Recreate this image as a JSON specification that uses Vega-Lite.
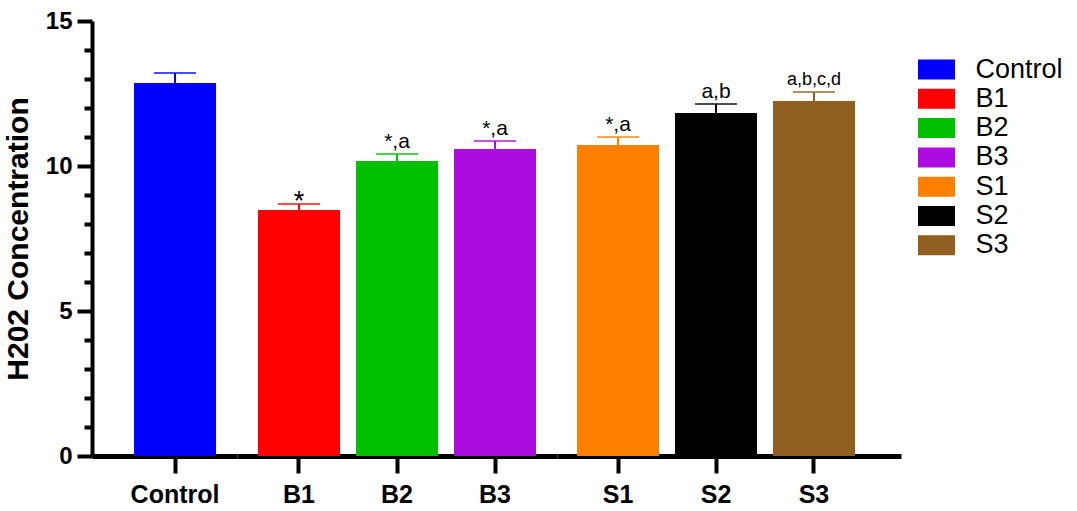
{
  "$schema": "https://vega.github.io/schema/vega-lite/v6.json",
  "padding": {"left": 3, "top": 9, "right": 5, "bottom": 5},
  "data": {"values": [
    {"name": "Control", "mean": 12.86, "upper": 13.21, "sig": ""},
    {"name": "B1", "mean": 8.48, "upper": 8.69, "sig": "*"},
    {"name": "B2", "mean": 10.17, "upper": 10.41, "sig": "*,a"},
    {"name": "B3", "mean": 10.59, "upper": 10.86, "sig": "*,a"},
    {"name": "S1", "mean": 10.72, "upper": 11.0, "sig": "*,a"},
    {"name": "S2", "mean": 11.83, "upper": 12.14, "sig": "a,b"},
    {"name": "S3", "mean": 12.24, "upper": 12.55, "sig": "a,b,c,d"}
  ]},
  "spacing": 0,
  "hconcat": [
    {
      "width": 145, "height": 435,
      "transform": [{"filter": {"field": "name", "oneOf": ["Control"]}}],
      "encoding": {
        "x": {"field": "name", "type": "nominal", "sort": ["Control"], "scale": {"paddingInner": 0.163, "paddingOuter": 0.3214, "align": 0.667}, "title": null}
      },
      "layer": [
        {"mark": {"type": "bar"}, "encoding": {
          "y": {"field": "mean", "type": "quantitative", "scale": {"domain": [0, 15], "nice": false}, "title": "H202 Concentration",
            "axis": {"orient": "left", "values": [0, 5, 10, 15], "tickSize": 15,
              "labelPadding": 5, "labelFont": "Liberation Sans", "labelFontWeight": "bold", "labelFontSize": 24,
              "titleFont": "Liberation Sans", "titleFontWeight": "bold", "titleFontSize": 30, "titlePadding": 12}},
          "color": {"field": "name", "type": "nominal", "title": null, "scale": {"domain": ["Control","B1","B2","B3","S1","S2","S3"], "range": ["#0000FF","#FF0000","#00C000","#AD0CE0","#FF8000","#000000","#916020"]}}}},
        {"mark": {"type": "rule", "strokeWidth": 2}, "encoding": {
          "y": {"field": "mean", "type": "quantitative", "title": null,
            "axis": {"orient": "left", "values": [1,2,3,4,6,7,8,9,11,12,13,14], "labels": false, "domain": false, "tickSize": 8, "title": null}},
          "y2": {"field": "upper"},
          "color": {"field": "name", "type": "nominal", "title": null}}},
        {"mark": {"type": "tick", "thickness": 2, "size": 42}, "encoding": {
          "y": {"field": "upper", "type": "quantitative", "axis": null},
          "color": {"field": "name", "type": "nominal", "title": null}}}
      ],
      "resolve": {"axis": {"y": "independent"}}
    },
    {
      "width": 320, "height": 435,
      "transform": [{"filter": {"field": "name", "oneOf": ["B1","B2","B3"]}}],
      "encoding": {
        "x": {"field": "name", "type": "nominal", "sort": ["B1","B2","B3"], "scale": {"paddingInner": 0.163, "paddingOuter": 0.214, "align": 0.5}, "title": null}
      },
      "layer": [
        {"mark": {"type": "bar"}, "encoding": {
          "y": {"field": "mean", "type": "quantitative", "scale": {"domain": [0, 15], "nice": false}, "axis": null},
          "color": {"field": "name", "type": "nominal", "title": null, "scale": {"domain": ["Control","B1","B2","B3","S1","S2","S3"], "range": ["#0000FF","#FF0000","#00C000","#AD0CE0","#FF8000","#000000","#916020"]}}}},
        {"mark": {"type": "rule", "strokeWidth": 2}, "encoding": {
          "y": {"field": "mean", "type": "quantitative", "axis": null}, "y2": {"field": "upper"},
          "color": {"field": "name", "type": "nominal", "title": null}}},
        {"mark": {"type": "tick", "thickness": 2, "size": 42}, "encoding": {
          "y": {"field": "upper", "type": "quantitative", "axis": null},
          "color": {"field": "name", "type": "nominal", "title": null}}},
        {"transform": [{"filter": "datum.sig === '*,a' || datum.sig === 'a,b'"}],
          "mark": {"type": "text", "fontSize": 21, "baseline": "alphabetic", "dy": -6, "color": "black"},
          "encoding": {"y": {"field": "upper", "type": "quantitative", "axis": null}, "text": {"field": "sig"}}},
        {"transform": [{"filter": "datum.sig === '*'"}],
          "mark": {"type": "text", "fontSize": 27, "baseline": "alphabetic", "dy": 6, "color": "black"},
          "encoding": {"y": {"field": "upper", "type": "quantitative", "axis": null}, "text": {"field": "sig"}}}
      ]
    },
    {
      "width": 344, "height": 435,
      "transform": [{"filter": {"field": "name", "oneOf": ["S1","S2","S3"]}}],
      "encoding": {
        "x": {"field": "name", "type": "nominal", "sort": ["S1","S2","S3"], "scale": {"paddingInner": 0.163, "paddingOuter": 0.3367, "align": 0.303}, "title": null}
      },
      "layer": [
        {"mark": {"type": "bar"}, "encoding": {
          "y": {"field": "mean", "type": "quantitative", "scale": {"domain": [0, 15], "nice": false}, "axis": null},
          "color": {"field": "name", "type": "nominal", "title": null, "scale": {"domain": ["Control","B1","B2","B3","S1","S2","S3"], "range": ["#0000FF","#FF0000","#00C000","#AD0CE0","#FF8000","#000000","#916020"]}}}},
        {"mark": {"type": "rule", "strokeWidth": 2}, "encoding": {
          "y": {"field": "mean", "type": "quantitative", "axis": null}, "y2": {"field": "upper"},
          "color": {"field": "name", "type": "nominal", "title": null}}},
        {"mark": {"type": "tick", "thickness": 2, "size": 42}, "encoding": {
          "y": {"field": "upper", "type": "quantitative", "axis": null},
          "color": {"field": "name", "type": "nominal", "title": null}}},
        {"transform": [{"filter": "datum.sig === '*,a' || datum.sig === 'a,b'"}],
          "mark": {"type": "text", "fontSize": 21, "baseline": "alphabetic", "dy": -6, "color": "black"},
          "encoding": {"y": {"field": "upper", "type": "quantitative", "axis": null}, "text": {"field": "sig"}}},
        {"transform": [{"filter": "datum.sig === 'a,b,c,d'"}],
          "mark": {"type": "text", "fontSize": 18, "baseline": "alphabetic", "dy": -7, "color": "black"},
          "encoding": {"y": {"field": "upper", "type": "quantitative", "axis": null}, "text": {"field": "sig"}}}
      ]
    }
  ],
  "resolve": {"scale": {"color": "shared"}},
  "config": {
    "view": {"stroke": null},
    "font": "Liberation Sans",
    "axis": {"domainColor": "black", "tickColor": "black", "labelColor": "black", "titleColor": "black", "grid": false, "domainWidth": 4, "tickWidth": 4},
    "axisY": {"labelOverlap": false},
    "axisX": {"labelFont": "Liberation Sans", "labelFontWeight": "bold", "labelFontSize": 25, "labelAngle": 0, "tickSize": 17, "labelPadding": 9, "domainWidth": 5},
    "legend": {"orient": "none", "legendX": 831, "legendY": 35, "symbolType": "M-1.85,-1H1.85V1H-1.85Z", "symbolSize": 400, "symbolStrokeWidth": 0, "symbolOpacity": 1, "labelFontSize": 27, "labelFont": "Liberation Sans", "labelColor": "black", "rowPadding": 1.3, "labelOffset": 25.5, "padding": 0}
  }
}
